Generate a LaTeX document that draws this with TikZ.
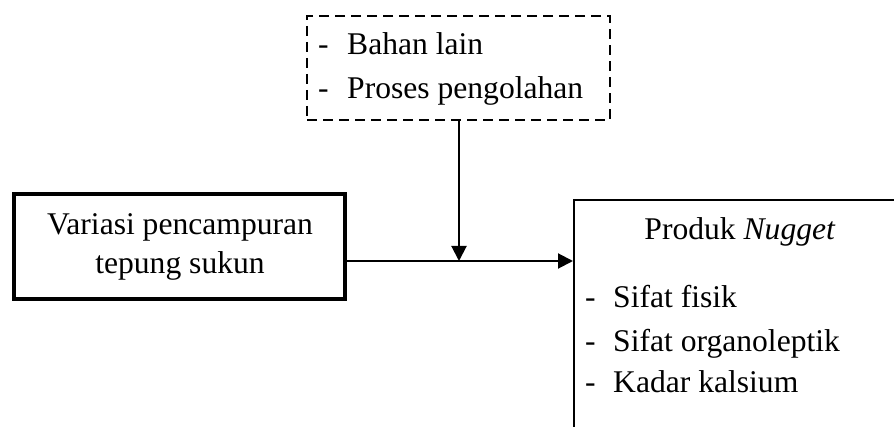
\documentclass[tikz,border=0pt]{standalone}
\usepackage{fontspec}
\setmainfont{Liberation Serif}
\usetikzlibrary{arrows.meta}
\begin{document}
\begin{tikzpicture}[x=1pt,y=-1pt,
  txt/.style={font=\fontsize{31.6}{40}\selectfont, inner sep=0pt, anchor=base west},
  ctxt/.style={font=\fontsize{31.6}{40}\selectfont, inner sep=0pt, anchor=base},
  arr/.style={line width=2pt, -{Triangle[length=15pt,width=15pt]}},
  boxthin/.style={draw, line width=2pt, inner sep=0pt},
  ]
\useasboundingbox (0,0) rectangle (894,427);
\clip (0,0) rectangle (894,427);
\fill[white] (0,0) rectangle (894,427);
% boxes
\node[boxthin, dash pattern=on 10pt off 6pt, minimum width=303pt, minimum height=104pt, anchor=north west] (ext) at (306,15) {};
\node[draw, line width=4pt, inner sep=0pt, minimum width=331pt, minimum height=105pt] (var) at (179.5,246.5) {};
\node[boxthin, minimum width=500pt, minimum height=400pt, anchor=north west] (prod) at (573,199) {};
% texts
\node[txt] (d1) at (318,55) {-};
\node[txt] (t1) at (347,55) {Bahan lain};
\node[txt] (d2) at (318,99) {-};
\node[txt] (t2) at (347,99) {Proses pengolahan};
\node[ctxt] (v1) at (180,235) {Variasi pencampuran};
\node[ctxt] (v2) at (180,274) {tepung sukun};
\node[ctxt] (p0) at (740,240) {Produk \textit{Nugget}};
\node[txt] (pd1) at (585,308) {-};
\node[txt] (p1) at (613,308) {Sifat fisik};
\node[txt] (pd2) at (585,352) {-};
\node[txt] (p2) at (613,352) {Sifat organoleptik};
\node[txt] (pd3) at (585,392) {-};
\node[txt] (p3) at (613,392) {Kadar kalsium};
% connectors
\coordinate (join) at (459,261);
\draw[arr] (var.east |- join) -- (prod.west |- join);
\draw[arr] (ext.south -| join) -- (join);
\end{tikzpicture}
\end{document}
